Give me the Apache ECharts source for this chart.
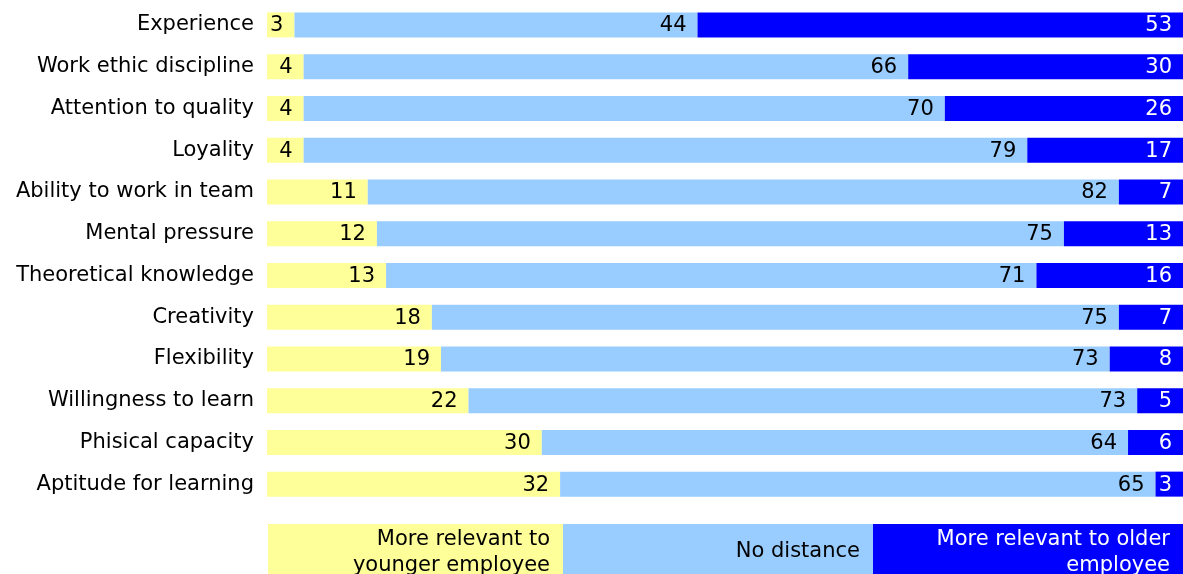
<!DOCTYPE html>
<html>
<head>
<meta charset="utf-8">
<script src="https://cdn.jsdelivr.net/npm/echarts@6/dist/echarts.min.js"></script>
<style>
html,body{margin:0;padding:0;background:#fff;}
#chart{width:1183px;height:574px;}
</style>
</head>
<body>
<div id="chart"></div>
<script>
const categories = ["Experience","Work ethic discipline","Attention to quality","Loyality","Ability to work in team","Mental pressure","Theoretical knowledge","Creativity","Flexibility","Willingness to learn","Phisical capacity","Aptitude for learning"];
const younger = [3,4,4,4,11,12,13,18,19,22,30,32];
const noDistance = [44,66,70,79,82,75,71,75,73,73,64,65];
const older = [53,30,26,17,7,13,16,7,8,5,6,3];
const seriesNames = ["More relevant to\nyounger employee","No distance","More relevant to older\nemployee"];
const colors = ["#FFFF99","#99CCFF","#0000FF"];
const labelColors = ["#000000","#000000","#FFFFFF"];
const FONT = "DejaVu Sans, Verdana, sans-serif";

const chart = echarts.init(document.getElementById('chart'));
const datasets = [younger, noDistance, older];
const series = datasets.map((d, i) => ({
  name: seriesNames[i],
  type: 'bar',
  stack: 'total',
  data: d,
  barWidth: 25,
  itemStyle: { color: colors[i] },
  label: {
    show: true,
    position: 'insideRight',
    distance: 11,
    offset: [0, 1],
    color: labelColors[i],
    fontSize: 21,
    fontFamily: FONT,
    formatter: '{c}'
  },
  emphasis: { disabled: true },
  animation: false
}));

// legend drawn as boxes along the bottom
const legendBoxes = [[268,563],[563,873],[873,1183]];
const graphic = [];
legendBoxes.forEach((b, i) => {
  graphic.push({
    type: 'rect', left: b[0], top: 524,
    shape: { width: b[1]-b[0], height: 60 },
    style: { fill: colors[i] }, silent: true
  });
  const lines = seriesNames[i].split('\n');
  const cy = lines.length === 1 ? 552 : 540;
  lines.forEach((t, j) => {
    graphic.push({
      type: 'text', x: b[1]-13, y: cy + j*26,
      style: { text: t, fill: labelColors[i], font: '21px ' + FONT, textAlign: 'right', textVerticalAlign: 'middle' },
      silent: true
    });
  });
});

chart.setOption({
  animation: false,
  grid: { left: 267, right: 0, top: 4, bottom: 69, containLabel: false },
  xAxis: { type: 'value', min: 0, max: 100, show: false },
  yAxis: {
    type: 'category', data: categories, inverse: true,
    axisLine: { show: false }, axisTick: { show: false }, splitLine: { show: false },
    axisLabel: { color: '#000', fontSize: 21, fontFamily: FONT, margin: 13, padding: [2, 0, 0, 0] }
  },
  series: series,
  graphic: graphic
});
</script>
</body>
</html>
